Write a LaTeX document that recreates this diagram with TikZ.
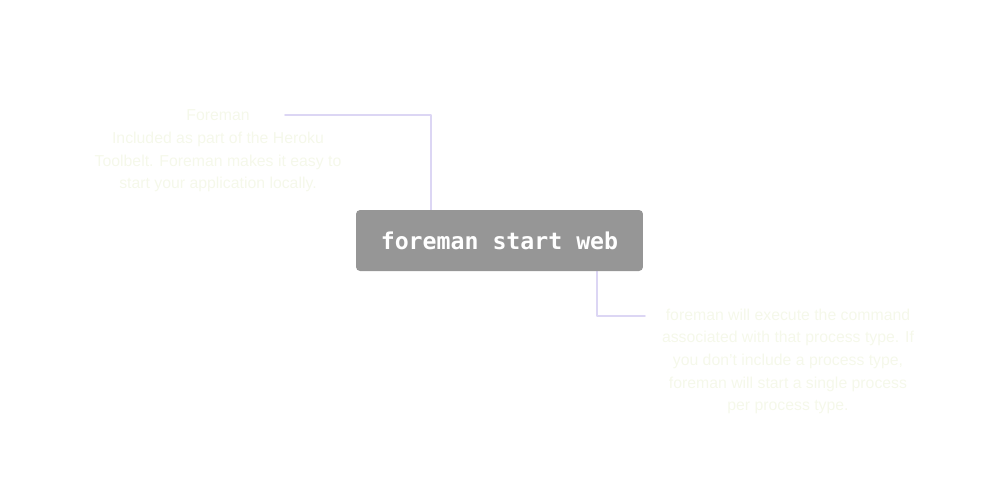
\documentclass[tikz,border=0pt]{standalone}
\usepackage{fontspec}
\setmainfont{Liberation Sans}
\setmonofont{DejaVu Sans Mono}
\usetikzlibrary{positioning}

\definecolor{boxgray}{HTML}{969696}
\definecolor{linklav}{HTML}{DCD6F4}
\definecolor{notefg}{HTML}{F5F8EA}

\begin{document}
\begin{tikzpicture}[x=0.02cm,y=-0.02cm,line cap=round,line join=round]
  \tikzset{
    cmdbox/.style={fill=boxgray,rounded corners=0.08cm,minimum width=5.74cm,
      minimum height=1.22cm,text=white,font=\ttfamily\bfseries\fontsize{13.2}{15}\selectfont},
    note/.style={align=center,text=notefg,inner sep=0pt,
      font=\fontsize{9}{12.9}\selectfont},
    link/.style={draw=linklav,line width=0.9pt}
  }
  \useasboundingbox (0,0) rectangle (1000,498);
  % links first, the box sits on top
  \coordinate (lfrom) at (285,115);
  \coordinate (ltop) at (431,210);
  \coordinate (rbot) at (597,271);
  \coordinate (rto) at (645,316);
  \draw[link] (lfrom) -| (ltop);
  \draw[link] (rbot) |- (rto);
  \node[cmdbox] (cmd) at (499.5,240.5) {foreman start web};
  \node[note] (notel) at (218,151) {Foreman\\
    Included as part of the Heroku\\
    Toolbelt. Foreman makes it easy to\\
    start your application locally.};
  \node[note] (noter) at (788,361.5) {foreman will execute the command\\
    associated with that process type. If\\
    you don't include a process type,\\
    foreman will start a single process\\
    per process type.};
\end{tikzpicture}
\end{document}
